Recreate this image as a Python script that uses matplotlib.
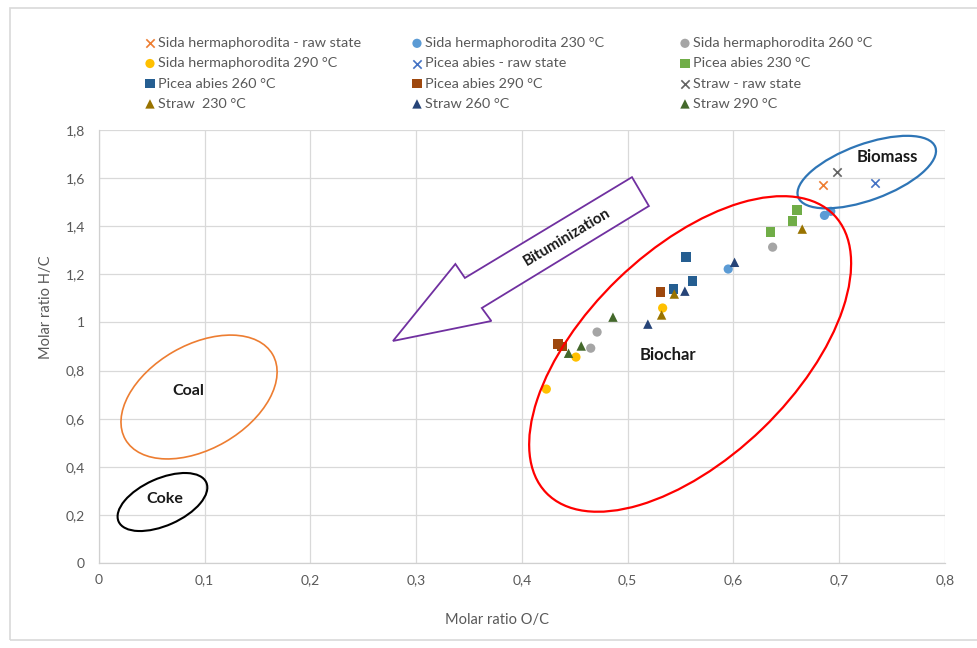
import matplotlib
matplotlib.use("Agg")
import matplotlib.pyplot as plt
from matplotlib.patches import Ellipse, Polygon, Rectangle
from matplotlib.transforms import IdentityTransform
from matplotlib.ticker import FuncFormatter

plt.rcParams['font.family'] = ['Lato', 'DejaVu Sans']

# ---- data (O/C, H/C molar ratios) ----
sida_raw_oc = [0.685]
sida_raw_hc = [1.571]
sida230_oc = [0.595, 0.686, 0.692]
sida230_hc = [1.222, 1.445, 1.462]
sida260_oc = [0.465, 0.471, 0.637]
sida260_hc = [0.893, 0.960, 1.313]
sida290_oc = [0.423, 0.451, 0.533]
sida290_hc = [0.723, 0.856, 1.060]
picea_raw_oc = [0.734]
picea_raw_hc = [1.580]
picea230_oc = [0.635, 0.656, 0.660]
picea230_hc = [1.376, 1.421, 1.467]
picea260_oc = [0.543, 0.555, 0.561]
picea260_hc = [1.139, 1.272, 1.172]
picea290_oc = [0.434, 0.438, 0.531]
picea290_hc = [0.910, 0.900, 1.126]
straw_raw_oc = [0.698]
straw_raw_hc = [1.625]
straw230_oc = [0.532, 0.544, 0.665]
straw230_hc = [1.031, 1.118, 1.388]
straw260_oc = [0.519, 0.554, 0.601]
straw260_hc = [0.993, 1.130, 1.250]
straw290_oc = [0.444, 0.456, 0.486]
straw290_hc = [0.872, 0.902, 1.022]

series = [
    ("Sida hermaphorodita - raw state", sida_raw_oc, sida_raw_hc, "x", "#ED7D31"),
    ("Sida hermaphorodita 230 °C", sida230_oc, sida230_hc, "o", "#5B9BD5"),
    ("Sida hermaphorodita 260 °C", sida260_oc, sida260_hc, "o", "#A5A5A5"),
    ("Sida hermaphorodita 290 °C", sida290_oc, sida290_hc, "o", "#FFC000"),
    ("Picea abies - raw state", picea_raw_oc, picea_raw_hc, "x", "#4472C4"),
    ("Picea abies 230 °C", picea230_oc, picea230_hc, "s", "#70AD47"),
    ("Picea abies 260 °C", picea260_oc, picea260_hc, "s", "#255E91"),
    ("Picea abies 290 °C", picea290_oc, picea290_hc, "s", "#9E480E"),
    ("Straw - raw state", straw_raw_oc, straw_raw_hc, "x", "#636363"),
    ("Straw  230 °C", straw230_oc, straw230_hc, "^", "#997300"),
    ("Straw 260 °C", straw260_oc, straw260_hc, "^", "#264478"),
    ("Straw 290 °C", straw290_oc, straw290_hc, "^", "#43682B"),
]

x_ticks = [0, 0.1, 0.2, 0.3, 0.4, 0.5, 0.6, 0.7, 0.8]
y_ticks = [0, 0.2, 0.4, 0.6, 0.8, 1.0, 1.2, 1.4, 1.6, 1.8]

# ---- figure ----
fig = plt.figure(figsize=(9.78, 6.48), dpi=100)
ax = fig.add_axes([99 / 978, 85 / 648, 846 / 978, 433 / 648])

# outer chart border
fig.patches.append(Rectangle((10 / 978, 8 / 648), 1.2, 632 / 648, transform=fig.transFigure,
                             fill=False, edgecolor="#D9D9D9", lw=1.2))

handles = []
for label, xs, ys, mk, col in series:
    size = 36 if mk == "x" else (44 if mk == "o" else 46)
    if mk == "x":
        h = ax.scatter(xs, ys, marker=mk, s=size, color=col, linewidths=1.2, label=label, zorder=4)
    else:
        h = ax.scatter(xs, ys, marker=mk, s=size, color=col, edgecolors="none", label=label, zorder=4)
    handles.append(h)

ax.set_xlim(0, 0.8)
ax.set_ylim(0, 1.8)
ax.set_xticks(x_ticks)
ax.set_yticks(y_ticks)
fmt = FuncFormatter(lambda v, p: ("%g" % round(v, 2)).replace(".", ","))
ax.xaxis.set_major_formatter(fmt)
ax.yaxis.set_major_formatter(fmt)
ax.tick_params(length=0, labelsize=10, labelcolor="#595959")
ax.tick_params(axis="x", pad=8)
ax.tick_params(axis="y", pad=10)
ax.grid(True, color="#D9D9D9", lw=0.9, zorder=0)
ax.set_axisbelow(True)
for s in ["top", "right"]:
    ax.spines[s].set_visible(False)
for s in ["left", "bottom"]:
    ax.spines[s].set_color("#D0D0D0")
    ax.spines[s].set_linewidth(0.9)

ax.set_xlabel("Molar ratio O/C", fontsize=10.5, color="#595959")
ax.xaxis.set_label_coords(0.47, -0.115)
ax.set_ylabel("Molar ratio H/C", fontsize=10.5, color="#595959")
ax.yaxis.set_label_coords(-0.054, 0.591)

# legend in three columns of equal width
col_x = [146 / 978, 413 / 978, 681 / 978]
for c in range(3):
    idx = [c, c + 3, c + 6, c + 9]
    leg = fig.legend([handles[i] for i in idx], [series[i][0] for i in idx],
                     loc="upper left", bbox_to_anchor=(col_x[c], 1 - 37 / 648),
                     frameon=False, fontsize=10.4, handlelength=0.55, handletextpad=0.3,
                     labelspacing=0.56, borderpad=0, borderaxespad=0, scatterpoints=1)
    for t in leg.get_texts():
        t.set_color("#595959")

fig.canvas.draw()


def pix_ellipse(center, w, h, angle, color, lw):
    cx, cy = ax.transData.transform(center)
    k = fig.dpi / 100.0
    e = Ellipse((cx, cy), w * k, h * k, angle=angle, transform=IdentityTransform(),
                fill=False, edgecolor=color, lw=lw, zorder=3)
    fig.patches.append(e)


pix_ellipse((0.726, 1.625), 146, 56, 20, "#2E75B6", 1.6)
pix_ellipse((0.559, 0.869), 400, 208, 44, "#FF0000", 1.6)
pix_ellipse((0.0946, 0.690), 170, 104, 30, "#ED7D31", 1.2)
pix_ellipse((0.060, 0.2535), 96, 47, 24, "#000000", 1.5)

# bituminization arrow
arrow_pts = [(0.504, 1.604), (0.520, 1.484), (0.362, 1.060), (0.371, 1.006),
             (0.278, 0.923), (0.337, 1.243), (0.346, 1.185)]
ax.add_patch(Polygon(arrow_pts, closed=True, facecolor="white", edgecolor="#7030A0",
                     lw=1.3, zorder=3))
ax.text(0.443, 1.355, "Bituminization", rotation=31, ha="center", va="center",
        fontsize=11, fontweight="bold", color="#1A1A1A", zorder=5)

ax.text(0.745, 1.687, "Biomass", ha="center", va="center", fontsize=12, fontweight="bold", color="#1A1A1A")
ax.text(0.538, 0.864, "Biochar", ha="center", va="center", fontsize=12, fontweight="bold", color="#1A1A1A")
ax.text(0.084, 0.715, "Coal", ha="center", va="center", fontsize=11.5, fontweight="bold", color="#1A1A1A")
ax.text(0.062, 0.266, "Coke", ha="center", va="center", fontsize=11.5, fontweight="bold", color="#1A1A1A")

fig.savefig("out.png", dpi=100)
